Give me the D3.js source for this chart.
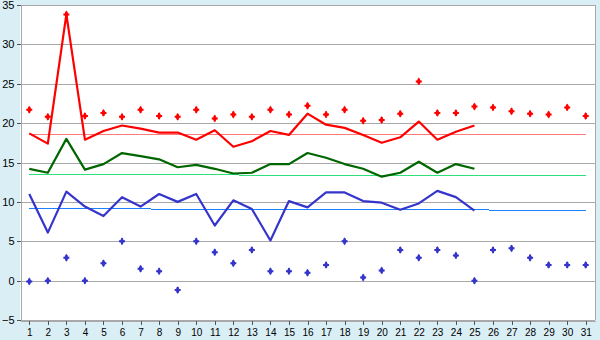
<!DOCTYPE html>
<html>
<head>
<meta charset="utf-8">
<script src="https://cdn.jsdelivr.net/npm/d3@7"></script>
<style>
body { margin: 0; background: #d9eef5; }
svg { display: block; }
</style>
</head>
<body>
<svg id="chart" width="600" height="340"></svg>
<script>
var days = [1, 2, 3, 4, 5, 6, 7, 8, 9, 10, 11, 12, 13, 14, 15, 16,
    17, 18, 19, 20, 21, 22, 23, 24, 25, 26, 27, 28, 29, 30, 31];
var yTicks = [-5, 0, 5, 10, 15, 20, 25, 30, 35];

// markers (per day, whole month)
var highMarks = [21.7, 20.8, 33.8, 20.9, 21.3, 20.8, 21.7, 20.9, 20.8, 21.7,
    20.6, 21.1, 20.8, 21.7, 21.1, 22.2, 21.1, 21.7, 20.3, 20.4,
    21.2, 25.3, 21.3, 21.3, 22.1, 22.0, 21.5, 21.2, 21.1, 22.0, 20.9];
var lowMarks = [-0.1, 0.0, 2.9, 0.0, 2.2, 5.0, 1.5, 1.2, -1.2, 5.0,
    3.6, 2.2, 3.9, 1.2, 1.2, 1.0, 2.0, 5.0, 0.4, 1.3,
    3.9, 2.9, 3.9, 3.2, 0.0, 3.9, 4.1, 2.9, 2.0, 2.0, 2.0];

// lines (days 1..25)
var highLine = [18.7, 17.4, 33.8, 17.9, 19.0, 19.7, 19.3, 18.8, 18.8, 17.9,
    19.1, 17.0, 17.7, 19.0, 18.5, 21.2, 19.8, 19.4, 18.5, 17.5,
    18.2, 20.2, 17.9, 18.9, 19.7];
var midLine = [14.2, 13.7, 18.0, 14.1, 14.8, 16.2, 15.8, 15.4, 14.4, 14.7,
    14.2, 13.6, 13.7, 14.8, 14.8, 16.2, 15.6, 14.8, 14.2, 13.2,
    13.7, 15.1, 13.7, 14.8, 14.2];
var lowLine = [11.0, 6.1, 11.3, 9.4, 8.2, 10.6, 9.4, 11.0, 10.0, 11.0,
    7.0, 10.2, 9.1, 5.1, 10.1, 9.3, 11.2, 11.2, 10.1, 9.9,
    9.0, 9.8, 11.4, 10.6, 8.9];

// trend lines [day 1, day 31]
var highTrend = [18.54, 18.54];
var midTrend = [13.46, 13.33];
var lowTrend = [9.14, 8.93];

var Chart = {
    left: 20,
    right: 595,
    top: 5,
    bottom: 320,
    gridColor: '#a9a9a9',
    font: '"Liberation Sans", Arial, sans-serif',

    init: function () {
        this.svg = d3.select('#chart');
        this.x = d3.scaleLinear().domain([0.5, 31.5]).range([this.left, this.right]);
        this.y = d3.scaleLinear().domain([-5, 35]).range([this.bottom, this.top]);
        this.renderFrame();
        this.renderAxes();
        this.renderTrend(highTrend, '#ff7b7b');
        this.renderTrend(midTrend, '#2de07c');
        this.renderTrend(lowTrend, '#1a80ff');
        this.renderLine(highLine, '#ff0000');
        this.renderLine(midLine, '#006600');
        this.renderLine(lowLine, '#3535cc');
        this.renderMarks(highMarks, '#ff0000');
        this.renderMarks(lowMarks, '#3535cc');
    },

    // 绘图区与网格线
    renderFrame: function () {
        var me = this;
        me.svg.append('rect')
            .attr('x', me.left)
            .attr('y', me.top)
            .attr('width', me.right - me.left)
            .attr('height', me.bottom - me.top)
            .attr('fill', '#ffffff');

        me.svg.append('g').attr('id', 'grid')
            .selectAll('line')
            .data(yTicks)
            .enter().append('line')
            .attr('x1', me.left)
            .attr('x2', me.right)
            .attr('y1', function (d) { return Math.round(me.y(d)) + 0.5; })
            .attr('y2', function (d) { return Math.round(me.y(d)) + 0.5; })
            .attr('stroke', me.gridColor)
            .attr('shape-rendering', 'crispEdges');

        me.svg.append('line')
            .attr('x1', me.right + 0.5).attr('x2', me.right + 0.5)
            .attr('y1', me.top).attr('y2', me.bottom)
            .attr('stroke', me.gridColor)
            .attr('shape-rendering', 'crispEdges');
    },

    renderAxes: function () {
        var me = this;
        var yAxis = d3.axisLeft(me.y)
            .tickValues(yTicks)
            .tickSize(4)
            .tickPadding(2);
        var gy = me.svg.append('g')
            .attr('transform', 'translate(' + (me.left + 0.5) + ',0)')
            .call(yAxis);
        gy.select('.domain').attr('stroke', me.gridColor).attr('shape-rendering', 'crispEdges');
        gy.selectAll('.tick line').attr('stroke', '#555').attr('shape-rendering', 'crispEdges');
        gy.selectAll('.tick text')
            .attr('font-family', me.font)
            .attr('font-size', 11)
            .attr('fill', '#000');

        var xAxis = d3.axisBottom(me.x)
            .tickValues(days)
            .tickSize(4)
            .tickPadding(4)
            .tickSizeOuter(0);
        var gx = me.svg.append('g')
            .attr('transform', 'translate(0,' + (me.bottom + 0.5) + ')')
            .call(xAxis);
        gx.select('.domain').attr('stroke', me.gridColor).attr('shape-rendering', 'crispEdges');
        gx.selectAll('.tick line').attr('stroke', '#555').attr('shape-rendering', 'crispEdges');
        gx.selectAll('.tick text')
            .attr('font-family', me.font)
            .attr('font-size', 10)
            .attr('fill', '#000');
    },

    renderTrend: function (vals, color) {
        var me = this;
        me.svg.append('line')
            .attr('x1', me.x(days[0]))
            .attr('x2', me.x(days[days.length - 1]))
            .attr('y1', me.y(vals[0]))
            .attr('y2', me.y(vals[1]))
            .attr('stroke', color)
            .attr('stroke-width', 1)
            .attr('shape-rendering', 'crispEdges');
    },

    renderLine: function (vals, color) {
        var me = this;
        var line = d3.line()
            .x(function (d, i) { return me.x(days[i]); })
            .y(function (d) { return me.y(d); });
        me.svg.append('path')
            .attr('d', line(vals))
            .attr('fill', 'none')
            .attr('stroke', color)
            .attr('stroke-width', 2.2)
            .attr('stroke-linejoin', 'round');
    },

    // 十字菱形标记
    renderMarks: function (vals, color) {
        var me = this;
        var g = me.svg.append('g');
        var cross = d3.symbol().type(d3.symbolCross).size(20);
        var diamond = d3.symbol().type(d3.symbolDiamond).size(18);
        vals.forEach(function (v, i) {
            var t = 'translate(' + me.x(days[i]) + ',' + me.y(v) + ')';
            g.append('path').attr('d', cross()).attr('transform', t).attr('fill', color);
            g.append('path').attr('d', diamond()).attr('transform', t).attr('fill', color);
        });
    }
};

Chart.init();
</script>
</body>
</html>
